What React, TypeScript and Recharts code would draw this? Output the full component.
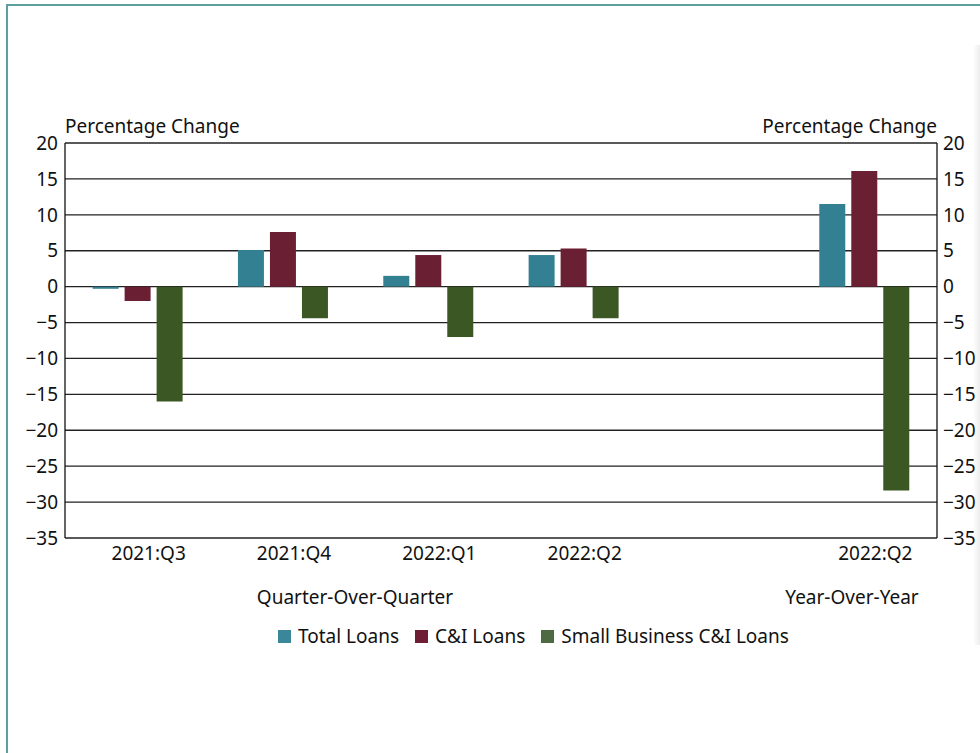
import { BarChart, Bar, XAxis, YAxis, CartesianGrid } from 'recharts';

// quarter-over-quarter groups, an empty spacer slot, then the year-over-year group
const periods = ['2021:Q3', '2021:Q4', '2022:Q1', '2022:Q2', '', '2022:Q2'];
const totalLoans = [-0.3, 5.1, 1.5, 4.4, null, 11.5];
const ciLoans = [-2.0, 7.6, 4.4, 5.3, null, 16.1];
const smallBizLoans = [-16.0, -4.4, -7.0, -4.4, null, -28.4];
const yTicks = [20, 15, 10, 5, 0, -5, -10, -15, -20, -25, -30, -35];

const series = [
  { key: 'total', name: 'Total Loans', color: '#348093', legend: '#3a879a' },
  { key: 'ci', name: 'C&I Loans', color: '#6b1f33', legend: '#6e1f35' },
  { key: 'small', name: 'Small Business C&I Loans', color: '#3b5723', legend: '#4e6a43' },
];

const data = periods.map((p, i) => ({
  period: p,
  total: totalLoans[i],
  ci: ciLoans[i],
  small: smallBizLoans[i],
}));

const font = '"Noto Sans", "Open Sans", sans-serif';
const tickStyle = { fontSize: 19, fill: '#111', fontFamily: font };

const fmt = (v: number) => (v < 0 ? '\u2212' + Math.abs(v) : String(v));

const Text = ({ left, top, children, align = 'left' as any, width }: any) => (
  <div
    style={{
      position: 'absolute',
      left,
      top,
      width,
      textAlign: align,
      fontFamily: font,
      fontSize: 19,
      lineHeight: '20px',
      color: '#111',
      whiteSpace: 'nowrap',
    }}
  >
    {children}
  </div>
);

export default function App() {
  return (
    <div style={{ position: 'absolute', left: 0, top: 0, width: 980, height: 753, background: '#fff', overflow: 'hidden' }}>
      {/* teal frame, top and left edges only visible */}
      <div style={{ position: 'absolute', left: 6, top: 4, width: 990, height: 760, borderTop: '2px solid #5c9fa1', borderLeft: '2px solid #5c9fa1' }} />
      <div style={{ position: 'absolute', left: 973, top: 45, width: 7, height: 600, background: 'linear-gradient(to right, #fff, #ececec)' }} />

      <div style={{ position: 'absolute', left: 0, top: 0 }}>
        <BarChart
          width={980}
          height={753}
          data={data}
          margin={{ top: 143, right: 0, bottom: 185, left: 0 }}
          barCategoryGap="19%"
          barGap={6}
        >
          <CartesianGrid yAxisId="left" vertical={false} stroke="#222" strokeWidth={1.3} />
          <XAxis
            dataKey="period"
            height={30}
            tickLine={false}
            axisLine={false}
            tickSize={0}
            tickMargin={9}
            tick={{ ...tickStyle, dx: 11 }}
            interval={0}
          />
          <YAxis
            yAxisId="left"
            orientation="left"
            type="number"
            width={65}
            domain={[-35, 20]}
            ticks={yTicks}
            allowDataOverflow
            tickFormatter={fmt}
            tickLine={false}
            tickSize={0}
            tickMargin={7}
            axisLine={{ stroke: '#111', strokeWidth: 1.3 }}
            tick={tickStyle}
          />
          <YAxis
            yAxisId="right"
            orientation="right"
            type="number"
            width={43}
            domain={[-35, 20]}
            ticks={yTicks}
            allowDataOverflow
            tickFormatter={fmt}
            tickLine={false}
            tickSize={0}
            tickMargin={6}
            axisLine={{ stroke: '#111', strokeWidth: 1.3 }}
            tick={tickStyle}
          />
          {series.map((s) => (
            <Bar
              key={s.key}
              yAxisId="left"
              dataKey={s.key}
              name={s.name}
              fill={s.color}
              isAnimationActive={false}
            />
          ))}
        </BarChart>
      </div>

      <Text left={65} top={116}>Percentage Change</Text>
      <Text left={637} top={116} width={300} align="right">Percentage Change</Text>
      <Text left={205} top={587} width={300} align="center">Quarter-Over-Quarter</Text>
      <Text left={752} top={587} width={200} align="center">Year-Over-Year</Text>

      <div
        style={{
          position: 'absolute',
          left: 278,
          top: 626,
          display: 'flex',
          alignItems: 'center',
          fontFamily: font,
          fontSize: 19,
          lineHeight: '20px',
          color: '#111',
          whiteSpace: 'nowrap',
        }}
      >
        {series.map((s) => (
          <div key={s.key} style={{ display: 'flex', alignItems: 'center', marginRight: 16 }}>
            <div style={{ width: 13, height: 13, background: s.legend, marginRight: 7 }} />
            <span>{s.name}</span>
          </div>
        ))}
      </div>
    </div>
  );
}
